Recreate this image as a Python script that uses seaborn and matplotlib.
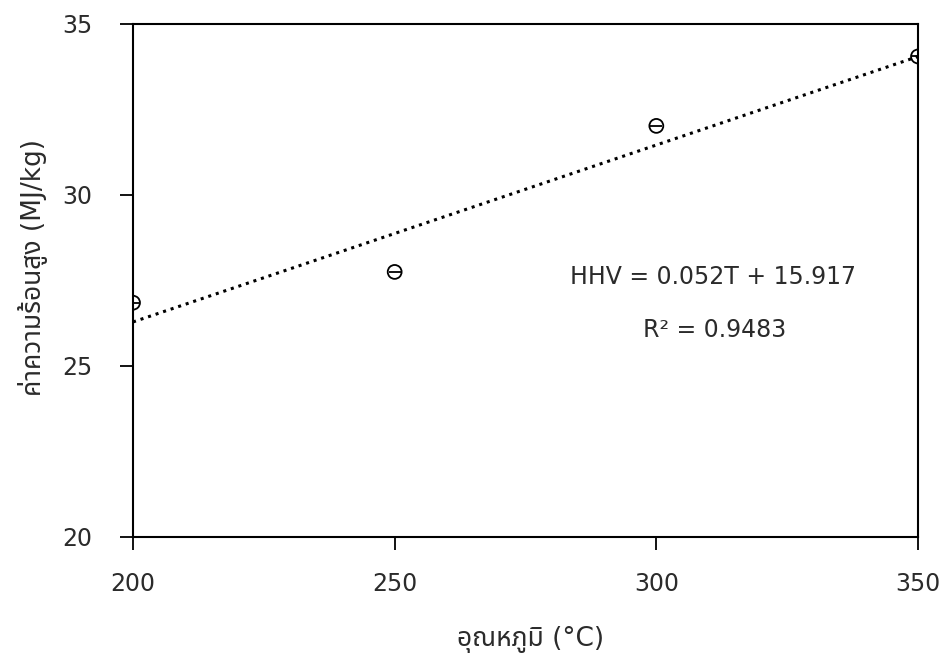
import seaborn as sns
import pandas as pd
import matplotlib.pyplot as plt

# temperature (C) vs higher heating value (MJ/kg)
temps = [200, 250, 300, 350]
hhv = [26.85, 27.75, 32.02, 34.05]
x_ticks = [200, 250, 300, 350]
y_ticks = [20, 25, 30, 35]

df = pd.DataFrame({'T': temps, 'HHV': hhv})

sns.set_style("white")
plt.rcParams['font.family'] = ['DejaVu Sans', 'Noto Sans Thai']

fig = plt.figure(figsize=(9.46, 6.55), dpi=100)
ax = fig.add_axes([0.1406, 0.1802, 0.8298, 0.7832])

# dotted linear trend line + open markers
sns.regplot(data=df, x='T', y='HHV', ax=ax, ci=None, truncate=True,
            scatter=False, line_kws={'color': 'black', 'linestyle': (0, (1, 1.6)), 'linewidth': 2.2})
sns.scatterplot(data=df, x='T', y='HHV', ax=ax, marker='o', s=100,
                facecolor='none', edgecolor='black', linewidth=1.3, zorder=5)
sns.scatterplot(data=df, x='T', y='HHV', ax=ax, marker='_', s=70,
                color='black', linewidth=1.3, zorder=5)

ax.set_xlim(200, 350)
ax.set_ylim(20, 35)
ax.set_xticks(x_ticks)
ax.set_yticks(y_ticks)
ax.tick_params(axis='both', direction='out', length=9.5, width=1.3, color='black',
               labelsize=17, labelcolor='#2b2b2b', bottom=True, left=True)
ax.tick_params(axis='x', pad=16)
ax.tick_params(axis='y', pad=20)
for s in ax.spines.values():
    s.set_color('black')
    s.set_linewidth(1.5)

ax.set_xlabel('อุณหภูมิ (°C)', fontsize=19, color='#2b2b2b')
ax.set_ylabel('ค่าความร้อนสูง (MJ/kg)', fontsize=19, color='#2b2b2b')
ax.xaxis.set_label_coords(0.506, -0.2)
ax.yaxis.set_label_coords(-0.127, 0.526)
ax.xaxis.label.set_va('center')
ax.yaxis.label.set_va('center')

ax.text(283.5, 27.6, 'HHV = 0.052T + 15.917', fontsize=17, color='#2b2b2b', va='center')
ax.text(297.5, 26.05, 'R² = 0.9483', fontsize=17, color='#2b2b2b', va='center')

fig.savefig('out.png', dpi=100)
